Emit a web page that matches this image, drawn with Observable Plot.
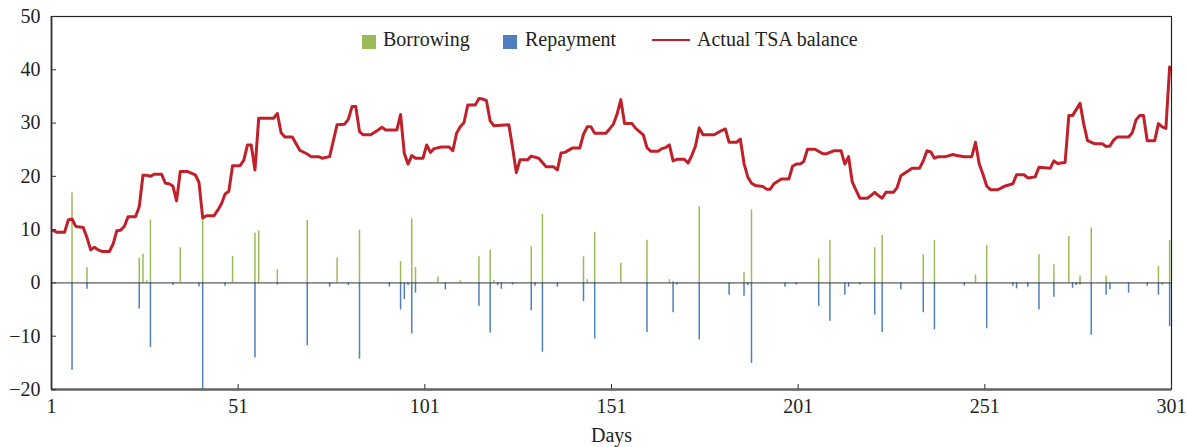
<!DOCTYPE html>
<html><head><meta charset="utf-8">
<script src="https://cdn.jsdelivr.net/npm/d3@7"></script>
<script src="https://cdn.jsdelivr.net/npm/@observablehq/plot@0.6"></script>
<style>
body{margin:0;background:#fff;}
#wrap{position:relative;width:1188px;height:447px;font-family:"Liberation Serif","Times New Roman",serif;color:#231f20;}
.leg{position:absolute;font-size:20px;line-height:20px;white-space:nowrap;}
.sw{position:absolute;}
</style></head><body>
<div id="wrap"></div>
<script>
const balanceDays = [1,2,4,5,6,7,9,10,11,12,13,14,16,17,18,19,20,21,23,24,25,26,27,28,30,31,32,33,34,35,37,39,40,41,42,44,45,46,47,48,49,
51,52,53,54,55,56,60,61,62,63,65,67,69,70,72,73,75,77,79,80,81,82,83,84,86,88,89,90,93,94,95,96,97,98,100,
101,102,103,105,107,108,109,110,111,112,114,115,116,117,118,119,123,124,125,126,128,129,131,133,135,136,137,138,140,142,143,144,145,146,149,150,
151,152,153,154,156,157,159,160,161,163,164,165,166,167,168,170,171,172,173,174,175,178,180,181,182,184,185,186,187,188,189,191,192,193,194,196,198,199,200,
201,202,203,205,207,208,210,212,213,214,215,216,217,219,220,221,222,223,224,226,227,228,229,231,233,234,235,236,237,238,240,242,243,245,247,248,249,250,
251,252,254,256,258,259,261,262,264,265,268,269,270,272,273,274,276,277,278,280,282,283,284,285,286,289,290,291,292,293,294,296,297,298,299,300];
const balanceValues = [9.8,9.5,9.5,11.8,12.0,10.6,10.4,8.5,6.2,6.7,6.2,5.9,5.9,7.3,9.8,9.9,10.6,12.4,12.4,14.3,20.2,20.2,20.0,20.4,20.4,18.7,18.6,18.2,15.4,20.9,20.9,20.3,18.9,12.2,12.6,12.6,13.6,14.8,16.7,17.2,22.0,
22.0,23.0,25.9,25.9,21.2,30.9,30.9,31.8,28.2,27.4,27.4,24.9,24.2,23.7,23.7,23.4,23.7,29.7,29.8,30.7,33.1,33.1,28.4,27.8,27.8,28.7,29.2,28.7,28.7,31.6,24.3,22.3,23.9,23.4,23.4,
25.9,24.5,25.2,25.5,25.5,24.8,28.1,29.3,30.1,33.4,33.4,34.6,34.5,34.2,30.4,29.5,29.7,25.4,20.7,23.1,23.1,23.8,23.4,21.8,21.8,21.2,24.4,24.5,25.3,25.3,27.9,29.3,29.3,28.1,28.1,28.9,
29.8,31.7,34.4,29.9,29.9,29.0,27.8,25.4,24.7,24.7,25.2,25.4,25.9,22.9,23.2,23.2,22.5,23.9,25.7,29.1,27.8,27.8,28.6,28.9,26.4,26.4,27.0,22.4,19.9,18.7,18.3,18.1,17.6,17.6,18.6,19.5,19.5,21.9,22.3,
22.3,22.8,25.1,25.1,24.3,24.2,24.8,24.8,22.3,23.7,18.9,17.4,15.9,15.9,16.4,17.0,16.4,15.9,17.0,17.0,17.9,20.1,20.6,21.5,21.5,22.9,24.8,24.6,23.4,23.7,23.7,24.1,23.9,23.7,23.7,26.4,22.3,20.4,
18.2,17.5,17.5,18.2,18.6,20.3,20.3,19.7,19.9,21.7,21.5,22.9,22.4,22.6,31.4,31.4,33.7,29.8,26.7,26.1,26.1,25.6,25.7,26.8,27.4,27.4,28.2,30.6,31.4,31.4,26.7,26.7,29.9,29.3,29.0,40.5];

const borrowDays = [6,10,24,25,26,27,35,41,49,55,56,61,69,77,83,94,97,98,104,110,115,118,119,129,132,143,144,146,153,160,166,167,174,186,188,206,209,221,223,234,237,248,251,265,269,273,276,279,283,297,300];
const borrowValues = [16.9,2.9,4.7,5.4,0.4,11.8,6.6,12.0,5.0,9.3,9.8,2.5,11.7,4.7,9.9,4.0,12.0,2.9,1.1,0.4,4.9,6.2,0.4,6.8,12.9,4.9,0.6,9.5,3.7,8.0,0.6,0.3,14.3,1.9,13.7,4.5,8.0,6.6,8.9,5.3,8.0,1.5,7.0,5.3,3.4,8.7,1.3,10.3,1.3,3.1,8.0];

const repayDays = [6,10,24,27,33,40,41,47,55,61,69,75,80,83,91,94,95,96,97,98,106,115,118,120,121,124,129,130,132,136,143,146,160,167,168,174,182,186,187,188,197,200,206,209,213,214,217,221,223,228,234,237,245,251,258,259,262,265,269,274,275,276,279,283,284,289,294,297,298,300];
const repayValues = [-16.4,-1.2,-4.9,-12.1,-0.5,-0.7,-20,-0.6,-14.1,-0.4,-11.8,-0.8,-0.5,-14.3,-0.8,-5.1,-3.1,-0.5,-9.6,-1.9,-1.3,-4.4,-9.4,-0.5,-1.2,-0.4,-5.2,-0.6,-13.0,-0.8,-3.5,-10.5,-9.3,-5.6,-0.4,-10.7,-2.3,-2.5,-0.5,-15.1,-0.8,-0.4,-4.4,-7.2,-2.3,-0.8,-0.4,-6.0,-9.3,-1.3,-5.6,-8.8,-0.6,-8.6,-0.6,-1.1,-0.8,-5.1,-2.7,-1.0,-0.5,-0.4,-9.8,-2.3,-1.3,-1.9,-0.6,-2.3,-0.4,-8.2];

const xTickLabels = [1,51,101,151,201,251,301];
const yTicks = [-20,-10,0,10,20,30,40,50];
const yDomain = [-20,50];
const xDomain = [0.5,300.5];
const legendLabels = ["Borrowing","Repayment","Actual TSA balance"];
const colors = {borrow:"#9bbb59", repay:"#4f7fbf", balance:"#c0202a"};

const balance = balanceDays.map((d,i)=>({day:d, value:balanceValues[i]}));
const borrow = borrowDays.map((d,i)=>({day:d, value:borrowValues[i]}));
const repay = repayDays.map((d,i)=>({day:d, value:repayValues[i]}));

const plot = Plot.plot({
  width:1188, height:447,
  marginLeft:51, marginRight:17, marginTop:16, marginBottom:58,
  style:{fontFamily:"'Liberation Serif', serif", fontSize:"20px", color:"#231f20", background:"#fff"},
  x:{domain:xDomain},
  y:{domain:yDomain},
  marks:[
    Plot.ruleX(borrow,{x:"day", y1:0, y2:"value", stroke:colors.borrow, strokeWidth:1.5}),
    Plot.ruleX(repay,{x:"day", y1:0, y2:"value", stroke:colors.repay, strokeWidth:1.5}),
    Plot.ruleY([0],{stroke:"#333", strokeWidth:1}),
    Plot.line(balance,{x:"day", y:"value", stroke:colors.balance, strokeWidth:3, strokeLinejoin:"round"}),
    Plot.frame({stroke:"#222", strokeWidth:1.2}),
    Plot.ruleX([xDomain[0]],{stroke:"#333", strokeWidth:1.7}),
    Plot.ruleY([yDomain[0]],{stroke:"#666", strokeWidth:2.5}),
    Plot.axisY(yTicks,{anchor:"left", tickSize:-5, tickPadding:16, label:null, stroke:"#333"}),
    Plot.axisX(xTickLabels.map(d=>d-0.5),{anchor:"bottom", tickSize:-5, tickPadding:14, tickFormat:d=>String(d+0.5), stroke:"#333",
      label:"Days", labelAnchor:"center", labelArrow:"none", labelOffset:52})
  ]
});
const wrap = document.getElementById("wrap");
wrap.appendChild(plot);

function addSwatch(left, top, w, h, color){
  const s=document.createElement("div"); s.className="sw";
  s.style.cssText=`left:${left}px;top:${top}px;width:${w}px;height:${h}px;background:${color};`;
  wrap.appendChild(s);
}
function addText(left, text){
  const t=document.createElement("div"); t.className="leg";
  t.style.left=left+"px"; t.style.top="29px"; t.textContent=text;
  wrap.appendChild(t);
}
addSwatch(362,35,14,14,colors.borrow); addText(383,legendLabels[0]);
addSwatch(503,35,14,14,colors.repay); addText(525,legendLabels[1]);
addSwatch(652,38.5,38,2.5,colors.balance); addText(697,legendLabels[2]);
</script>
</body></html>
